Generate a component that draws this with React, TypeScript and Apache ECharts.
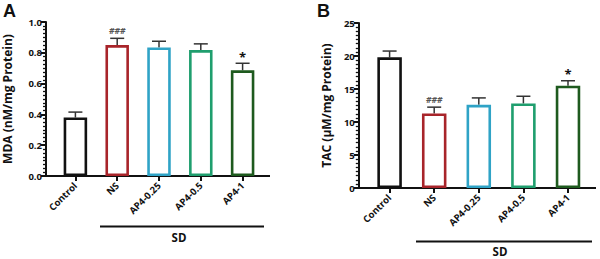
import React, { useEffect, useRef } from "react";
import * as echarts from "echarts";

const categories = ["Control", "NS", "AP4-0.25", "AP4-0.5", "AP4-1"];
const barColors = ["#111111", "#a8242a", "#2fa3c6", "#1f9e6e", "#1e5a1e"];

const mdaValues = [0.38, 0.85, 0.835, 0.818, 0.686];
const mdaErrors = [0.035, 0.044, 0.04, 0.04, 0.046];
const mdaMarks = ["", "###", "", "", "*"];
const mdaTicks = { min: 0, max: 1.0, interval: 0.2 };

const tacValues = [19.8, 11.3, 12.6, 12.8, 15.5];
const tacErrors = [0.95, 0.95, 1.05, 1.1, 0.75];
const tacMarks = ["", "###", "", "", "*"];
const tacTicks = { min: 0, max: 25, interval: 5 };

const FONT = "Open Sans";
const LETTER_FONT = "Liberation Sans";

function errorSeries(gridIdx: number, values: number[], errors: number[], marks: string[]) {
  return {
    type: "custom",
    xAxisIndex: gridIdx,
    yAxisIndex: gridIdx,
    z: 1,
    data: values.map((v, i) => [i, v, errors[i]]),
    renderItem: (params: any, api: any) => {
      const i = api.value(0);
      const v = api.value(1);
      const e = api.value(2);
      const p0 = api.coord([i, v]);
      const p1 = api.coord([i, v + e]);
      const half = 7;
      const mark = marks[params.dataIndex];
      const children: any[] = [
        { type: "line", shape: { x1: p0[0], y1: p0[1], x2: p1[0], y2: p1[1] }, style: { stroke: "#333", lineWidth: 1.5 } },
        { type: "line", shape: { x1: p1[0] - half, y1: p1[1], x2: p1[0] + half, y2: p1[1] }, style: { stroke: "#333", lineWidth: 1.5 } },
      ];
      if (mark) {
        const isHash = mark.startsWith("#");
        children.push({
          type: "text",
          x: p1[0],
          y: p1[1] - (isHash ? 3 : 0),
          style: {
            text: mark,
            fontSize: isHash ? 8.5 : 13,
            fontStyle: isHash ? "italic" : "normal",
            fontWeight: "bold",
            fontFamily: FONT,
            fill: isHash ? "#555" : "#111",
            align: "center",
            verticalAlign: "bottom",
          },
        });
      }
      return { type: "group", children };
    },
  };
}

function barSeries(gridIdx: number, values: number[], width: number) {
  return {
    type: "bar",
    xAxisIndex: gridIdx,
    yAxisIndex: gridIdx,
    barWidth: width,
    z: 2,
    data: values.map((v, i) => ({
      value: v,
      itemStyle: { color: "#ffffff", borderColor: barColors[i], borderWidth: 2.6 },
    })),
  };
}

function yAxisDef(gridIdx: number, t: { min: number; max: number; interval: number }, name: string, decimals: number, gap: number) {
  return {
    type: "value",
    gridIndex: gridIdx,
    min: t.min,
    max: t.max,
    interval: t.interval,
    offset: 8.5,
    name,
    nameLocation: "middle",
    nameRotate: 90,
    nameGap: gap,
    nameTextStyle: { fontFamily: FONT, fontWeight: "bold", fontSize: 12, color: "#111" },
    splitLine: { show: false },
    axisLine: { show: true, lineStyle: { color: "#111", width: 2 } },
    axisTick: { show: true, length: 5, lineStyle: { color: "#111", width: 2 } },
    minorTick: { show: true, splitNumber: 8, length: 3, lineStyle: { color: "#111", width: 1.3 } },
    axisLabel: {
      fontFamily: FONT,
      fontWeight: "bold",
      fontSize: 9.5,
      color: "#111",
      margin: 4,
      formatter: (v: number) => v.toFixed(decimals),
    },
  };
}

function xAxisDef(gridIdx: number) {
  return {
    type: "category",
    gridIndex: gridIdx,
    data: categories,
    axisLine: { show: false },
    axisTick: { show: true, alignWithLabel: true, length: 5, lineStyle: { color: "#111", width: 2 } },
    axisLabel: {
      rotate: 45,
      fontFamily: FONT,
      fontWeight: "bold",
      fontSize: 9.5,
      color: "#111",
      margin: 8,
      interval: 0,
    },
  };
}

export default function App() {
  const ref = useRef<HTMLDivElement>(null);
  useEffect(() => {
    if (!ref.current) return;
    const chart = echarts.init(ref.current, null, { renderer: "svg" });
    chart.setOption({
      animation: false,
      backgroundColor: "#ffffff",
      grid: [
        { left: 53.5, top: 22, width: 210, height: 154 },
        { left: 367.3, top: 23, width: 223, height: 165 },
      ],
      xAxis: [xAxisDef(0), xAxisDef(1)],
      yAxis: [
        yAxisDef(0, mdaTicks, "MDA (nM/mg Protein)", 1, 33),
        yAxisDef(1, tacTicks, "TAC (µM/mg Protein)", 0, 26),
      ],
      series: [
        barSeries(0, mdaValues, 23.5),
        errorSeries(0, mdaValues, mdaErrors, mdaMarks),
        barSeries(1, tacValues, 24.5),
        errorSeries(1, tacValues, tacErrors, tacMarks),
      ],
      graphic: [
        { type: "line", shape: { x1: 44, y1: 176, x2: 270, y2: 176 }, style: { stroke: "#111", lineWidth: 2 } },
        { type: "line", shape: { x1: 358, y1: 188, x2: 596, y2: 188 }, style: { stroke: "#111", lineWidth: 2 } },
        { type: "line", shape: { x1: 100, y1: 226.5, x2: 264, y2: 226.5 }, style: { stroke: "#111", lineWidth: 2 } },
        { type: "line", shape: { x1: 416, y1: 241.5, x2: 592, y2: 241.5 }, style: { stroke: "#111", lineWidth: 2 } },
        { type: "text", x: 179, y: 237, style: { text: "SD", fontFamily: FONT, fontWeight: "bold", fontSize: 11.5, fill: "#111", align: "center", verticalAlign: "middle" } },
        { type: "text", x: 500, y: 251, style: { text: "SD", fontFamily: FONT, fontWeight: "bold", fontSize: 11.5, fill: "#111", align: "center", verticalAlign: "middle" } },
        { type: "text", x: 3, y: 11, style: { text: "A", fontFamily: LETTER_FONT, fontWeight: "bold", fontSize: 18, fill: "#111", align: "left", verticalAlign: "middle" } },
        { type: "text", x: 317, y: 11, style: { text: "B", fontFamily: LETTER_FONT, fontWeight: "bold", fontSize: 18, fill: "#111", align: "left", verticalAlign: "middle" } },
      ],
    });
    return () => chart.dispose();
  }, []);
  return <div ref={ref} style={{ position: "fixed", left: 0, top: 0, width: 600, height: 259 }} />;
}
